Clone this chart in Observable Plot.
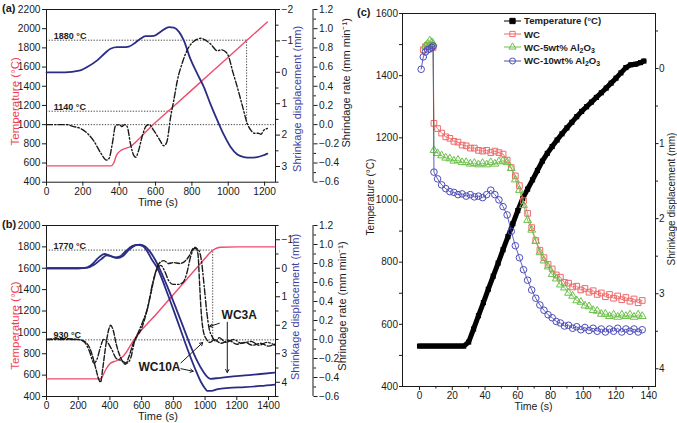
<!DOCTYPE html>
<html><head><meta charset="utf-8">
<script src="https://cdn.jsdelivr.net/npm/d3@7"></script>
<script src="https://cdn.jsdelivr.net/npm/@observablehq/plot@0.6"></script>
<style>
body{margin:0;background:#fff;}
#root{position:relative;width:677px;height:423px;overflow:hidden;background:#fff;font-family:"Liberation Sans",Arial,Helvetica,sans-serif;color:#1a1a1a;}
.plab{position:absolute;font-weight:bold;font-size:11px;}
#legend{position:absolute;left:504px;top:14px;font-weight:bold;font-size:9.6px;}
#legend .row{display:flex;align-items:center;height:13.4px;}
#legend svg{margin-right:3px;}
#legend sub{font-size:7px;vertical-align:-2px;line-height:0;}
</style></head><body><div id="root"></div>
<script>
// ---------------- Panel (a) data ----------------
const aTempTime = [0,355,370,385,407,430,462,481,500,572,700,900,1100,1215];
const aTemp     = [570,570,600,680,728,750,772,800,835,973,1191,1533,1874,2070];
const aDispTime = [0,100,180,224,279,320,352,389,420,453,490,517,545,591,630,673,701,730,756,790,830,866,900,940,975,1013,1050,1086,1120,1160,1190,1215];
const aDisp     = [0,0,-0.05,-0.17,-0.38,-0.6,-0.75,-0.8,-0.8,-0.82,-0.95,-1.07,-1.15,-1.16,-1.3,-1.44,-1.42,-1.28,-1.01,-0.45,0.05,0.47,0.98,1.53,1.98,2.38,2.62,2.7,2.72,2.7,2.65,2.59];
const aRateTime = [0,60,110,150,187,230,260,300,330,345,362,380,400,415,430,444,462,480,492,505,530,550,565,590,620,646,662,683,700,720,750,775,800,829,850,875,903,940,963,985,1000,1025,1050,1080,1105,1125,1145,1165,1180,1195,1215];
const aRate     = [0,0,0,-0.02,-0.04,-0.1,-0.17,-0.3,-0.37,-0.35,-0.2,-0.01,0,-0.02,0,-0.02,-0.2,-0.32,-0.34,-0.28,-0.1,-0.01,0,-0.06,-0.15,-0.22,-0.18,0.08,0.25,0.46,0.66,0.78,0.85,0.89,0.9,0.88,0.84,0.77,0.78,0.76,0.72,0.55,0.39,0.18,0.01,-0.06,-0.09,-0.09,-0.1,-0.06,-0.04];
const aRefTemps = [1880,1140];
const aRefEnds  = [1101,692];
const aRefLabels = ["1880 °C","1140 °C"];
const aZeroTemp = 1000;
const aTimeTicks = [0,200,400,600,800,1000,1200];
const aTempTicks = [400,600,800,1000,1200,1400,1600,1800,2000,2200];
const aDispTicks = [-2,-1,0,1,2,3];
const aDispMinor = [-1.5,-0.5,0.5,1.5,2.5,3.5];

// ---------------- Panel (b) data ----------------
const bTempTime = [0,340,355,375,404,446,488,551,700,850,1000,1034,1060,1097,1200,1440];
const bTemp     = [565,565,595,655,712,737,784,930,1183,1438,1693,1750,1778,1797,1800,1800];
const bDispATime = [0,200,250,290,330,365,395,430,465,500,540,575,605,635,665,700,750,800,845,890,935,975,1000,1013,1040,1080,1150,1250,1350,1440];
const bDispA     = [0,0,-0.02,-0.15,-0.38,-0.5,-0.45,-0.38,-0.42,-0.6,-0.78,-0.82,-0.78,-0.6,-0.3,0,0.7,1.45,2.15,2.85,3.5,4.0,4.22,4.3,4.3,4.24,4.2,4.17,4.13,4.08];
const bDispBTime = [0,200,260,300,345,380,410,445,480,520,560,590,620,650,685,720,770,820,865,910,950,985,1015,1034,1070,1150,1250,1350,1440];
const bDispB     = [0,0,-0.02,-0.12,-0.32,-0.45,-0.42,-0.36,-0.42,-0.65,-0.8,-0.83,-0.77,-0.6,-0.3,0.1,0.75,1.45,2.1,2.75,3.25,3.6,3.82,3.88,3.86,3.81,3.76,3.71,3.66];
const bRate1Time = [0,100,200,240,280,310,330,341,355,375,395,405,420,440,470,498,520,545,570,600,630,660,690,710,740,770,800,840,870,900,925,940,955,965,975,990,1010,1030,1060,1100,1150,1200,1250,1300,1350,1400,1440];
const bRate1     = [0,0.01,0,-0.02,-0.12,-0.3,-0.42,-0.45,-0.3,-0.05,0.12,0.15,0.1,-0.05,-0.2,-0.26,-0.18,-0.05,0.03,0.12,0.28,0.5,0.72,0.8,0.83,0.8,0.81,0.8,0.82,0.88,0.96,0.97,0.9,0.6,0.3,0.08,0,-0.03,0,-0.04,-0.01,-0.05,-0.03,-0.06,-0.04,-0.07,-0.05];
const bRate2Time = [0,100,200,240,270,300,320,340,360,380,410,440,470,505,530,555,580,610,640,670,700,720,745,770,800,830,860,885,910,935,955,975,995,1010,1025,1045,1065,1090,1130,1180,1230,1290,1340,1390,1440];
const bRate2     = [0,0,0,-0.03,-0.12,-0.25,-0.2,-0.08,0,-0.02,-0.1,-0.2,-0.22,-0.25,-0.2,-0.02,0.08,0.2,0.35,0.6,0.75,0.78,0.72,0.62,0.58,0.58,0.6,0.7,0.88,0.96,0.95,0.85,0.55,0.3,0.12,0.03,-0.02,0.02,-0.03,0,-0.04,-0.02,-0.06,-0.03,-0.06];
const bRefTemps = [1770];
const bRefEnds  = [1048];
const bRefLabels = ["1770 °C"];
const bZeroTemp = 930;
const bZeroLabel = "930 °C";
const bTimeTicks = [0,200,400,600,800,1000,1200,1400];
const bTempTicks = [400,600,800,1000,1200,1400,1600,1800,2000];
const bDispTicks = [-1,0,1,2,3,4];
const bDispMinor = [-1.5,-0.5,0.5,1.5,2.5,3.5,4.5];
const bNoteLabels = ["WC3A","WC10A"];
const bNoteTime   = [1104,580];
const bNoteTemp   = [1158,674];
const bArrowT1 = [1090,1140,848,848];
const bArrowY1 = [1085,1095,715,660];
const bArrowT2 = [1028,1140,985,925];
const bArrowY2 = [1055,625,905,636];

const rateTicks = [-0.6,-0.4,-0.2,0,0.2,0.4,0.6,0.8,1.0,1.2];
const rateMinor = [-0.5,-0.3,-0.1,0.1,0.3,0.5,0.7,0.9,1.1];

// ---------------- Panel (c) data ----------------
const cTempTime = [0,3,6,9,12,15,18,21,24,27,30,33,36,39,42,45,48,51,54,57,60,63,66,69,72,75,78,81,84,87,90,93,96,99,102,105,108,111,114,117,120,123,126,129,132,135,137];
const cTemp     = [530,530,530,530,530,530,530,530,530,530,543,585,628,670,713,755,797,840,882,924,966,1005,1035,1065,1095,1125,1150,1172,1193,1213,1232,1250,1268,1285,1300,1315,1330,1345,1360,1376,1392,1409,1426,1435,1437,1442,1447];
const cTime = [1,2.3,3.6,4.9,6.2,7.5,8.3,8.8,11,13.5,16,18.5,21,23.5,26,28.5,31,33.5,36,38.5,41,43.5,46,48.5,51,53.5,56,58.5,61,63.5,66,68.5,71,73.5,76,78.5,81,83.5,86,88.5,91,93.5,96,98.5,101,103.5,106,108.5,111,113.5,116,118.5,121,123.5,126,128.5,131,133.5,136];
const cWC   = [null,-0.25,-0.29,-0.31,-0.31,-0.30,-0.28,0.73,
  0.80,0.86,0.91,0.93,0.97,0.98,1.02,1.03,1.06,1.06,1.09,1.10,1.09,1.12,1.10,1.12,1.14,1.22,1.32,1.43,1.56,1.76,1.93,2.12,2.29,2.42,2.52,2.61,2.67,2.75,2.78,2.85,2.86,2.91,2.90,2.95,2.93,2.98,2.96,3.01,2.99,3.04,3.01,3.06,3.03,3.08,3.05,3.10,3.07,3.12,3.09];
const cWC5  = [null,null,-0.30,-0.33,-0.37,-0.35,-0.33,1.09,
  1.13,1.16,1.19,1.20,1.23,1.22,1.25,1.25,1.27,1.26,1.28,1.26,1.28,1.25,1.27,1.24,1.23,1.25,1.33,1.48,1.62,1.82,2.02,2.15,2.30,2.45,2.56,2.64,2.74,2.80,2.88,2.92,2.99,3.03,3.09,3.11,3.16,3.17,3.22,3.23,3.27,3.27,3.30,3.28,3.31,3.28,3.30,3.28,3.31,3.28,3.30];
const cWC10 = [0.01,-0.155,-0.22,-0.25,-0.26,-0.28,-0.30,1.38,
  1.47,1.55,1.60,1.64,1.65,1.68,1.67,1.70,1.68,1.71,1.70,1.72,1.68,1.62,1.68,1.75,1.84,1.95,2.17,2.36,2.52,2.68,2.82,2.95,3.06,3.15,3.22,3.28,3.32,3.37,3.39,3.43,3.42,3.46,3.44,3.48,3.45,3.49,3.46,3.50,3.47,3.51,3.47,3.50,3.46,3.51,3.47,3.50,3.47,3.51,3.48];
const cSeriesNames = ["Temperature (°C)","WC","WC-5wt% Al<sub>2</sub>O<sub>3</sub>","WC-10wt% Al<sub>2</sub>O<sub>3</sub>"];
const cTimeTicks = [0,20,40,60,80,100,120,140];
const cTimeMinor = [10,30,50,70,90,110,130];
const cTempTicks = [400,600,800,1000,1200,1400,1600];
const cTempMinor = [500,700,900,1100,1300,1500];
const cDispTicks = [0,1,2,3,4];
const cDispMinor = [-0.5,0.5,1.5,2.5,3.5];

// ---------------- styling ----------------
const root = document.getElementById("root");
const FONT = '"Liberation Sans", Arial, Helvetica, sans-serif';
const BLK = "#1a1a1a", RED = "#ef4b6d", NAVY = "#2b2d84", REDTXT = "#ee3f57", BLUETXT = "#3e3ea2";
const C_RED = "#f0696b", C_GREEN = "#6cc14a", C_BLUE = "#4d4db9";
const baseStyle = {background:"transparent", overflow:"visible", fontFamily:FONT, fontSize:"10.2px", color:BLK};
const cStyle = {...baseStyle, fontSize:"10px"};
const fmtInt = d3.format("d"), fmt1 = d3.format(".1f");
const pts = (xs, ys) => xs.map((x,i) => ({x, y: ys[i]}));
function place(svg, left, top){ svg.style.position="absolute"; svg.style.left=left+"px"; svg.style.top=top+"px"; root.appendChild(svg); }
function vlabel(t, anchor, dx, dy, fill, size){
  return Plot.text([t], {text:d=>d, frameAnchor:anchor, textAnchor:"middle", lineAnchor:"middle", rotate:-90, dx, dy, fill, fontSize:size});
}
function hlabel(t, dx, dy, size){
  return Plot.text([t], {text:d=>d, frameAnchor:"bottom", textAnchor:"middle", lineAnchor:"middle", dx, dy, fill:BLK, fontSize:size});
}
const DOT = {stroke:"#333", strokeWidth:0.9, strokeDasharray:"1.3,1.5"};

function dualPanel(P){
  const common = {width:360, height:P.height, marginLeft:46, marginRight:85, marginTop:P.mt, marginBottom:P.mb, style:baseStyle};
  const xs = {domain:P.xDomain, label:null};
  const refs = P.refTemps.map((v,i)=>({temp:v, t:P.refEnds[i], label:P.refLabels[i]}));
  const baseMarks = [
    Plot.frame({stroke:BLK, strokeWidth:1}),
    Plot.axisX({ticks:P.timeTicks, tickSize:4, tickPadding:1.5, tickFormat:fmtInt, label:null}),
    Plot.axisY({ticks:P.tempTicks, tickSize:4, tickPadding:2, tickFormat:fmtInt, label:null}),
    Plot.ruleY(refs, {y:"temp", x1:P.xDomain[0], x2:"t", ...DOT}),
    Plot.ruleY([P.zeroTemp], {y:d=>d, ...DOT}),
    Plot.ruleX(refs.slice(0,1), {x:"t", y1:P.zeroTemp, y2:"temp", ...DOT}),
    Plot.text(refs, {x:P.refLabelTime, y:"temp", text:"label", textAnchor:"start", lineAnchor:"bottom", dy:-1.5, fontWeight:"bold", fontSize:9, fill:BLK}),
    Plot.line(pts(P.tempTime,P.temp), {x:"x", y:"y", stroke:RED, strokeWidth:1.4, curve:"monotone-x"}),
    vlabel("Temperature (°C)", "left", -31, P.tempLabelDy, REDTXT, 11.5),
    hlabel("Time (s)", -3, 20, 11)
  ];
  if (P.zeroLabel) baseMarks.push(Plot.text([P.zeroLabel], {x:P.refLabelTime, y:P.zeroTemp, text:d=>d, textAnchor:"start", lineAnchor:"bottom", dy:-1.5, fontWeight:"bold", fontSize:9, fill:BLK}));
  place(Plot.plot({...common, x:xs, y:{domain:P.tempDomain, label:null}, marks:baseMarks}), 0, P.top);

  place(Plot.plot({...common, x:{...xs, axis:null}, y:{domain:P.dispDomain, reverse:true, label:null}, marks:[
    Plot.axisY({anchor:"right", ticks:P.dispMinor, tickSize:2.5, fill:"none", label:null}),
    Plot.axisY({anchor:"right", ticks:P.dispTicks, tickSize:4, tickPadding:2, tickFormat:fmtInt, label:null}),
    ...P.disps.map(s => Plot.line(pts(s[0], s[1]), {x:"x", y:"y", stroke:NAVY, strokeWidth:1.8, curve:"monotone-x"})),
    vlabel("Shrinkage displacement (mm)", "right", P.dispLabelDx, P.dispLabelDy, BLUETXT, 11)
  ]}), 0, P.top);

  const rateMarks = [
    Plot.ruleX([P.xDomain[1]], {x:d=>d, dx:37.5, stroke:BLK, strokeWidth:1}),
    Plot.axisY({anchor:"right", dx:37.5, ticks:rateMinor, tickSize:2.5, fill:"none", label:null}),
    Plot.axisY({anchor:"right", dx:37.5, ticks:rateTicks, tickSize:4, tickPadding:2, tickFormat:fmt1, label:null}),
    ...P.rates.map(s => Plot.line(pts(s[0], s[1]), {x:"x", y:"y", stroke:BLK, strokeWidth:1.4, strokeDasharray:s[2], curve:"monotone-x"})),
    vlabel("Shrindage rate (mm min⁻¹)", "right", P.rateLabelDx, P.rateLabelDy, BLK, 11)
  ];
  if (P.notes) {
    rateMarks.push(Plot.text(P.notes, {x:"t", y:"v", text:"label", textAnchor:"start", lineAnchor:"middle", fontWeight:"bold", fontSize:12, fill:BLK}));
    rateMarks.push(Plot.arrow(P.arrows, {x1:"t1", y1:"v1", x2:"t2", y2:"v2", stroke:BLK, strokeWidth:1, headLength:5}));
  }
  place(Plot.plot({...common, x:{...xs, axis:null}, y:{domain:[-0.6,1.2], label:null}, marks:rateMarks}), 0, P.top);
}

// annotation positions are given in temperature units; map them onto the rate layer (same frame)
function toRate(T, dom){ return -0.6 + (T - dom[0]) / (dom[1]-dom[0]) * 1.8; }

dualPanel({
  top:0, height:205, mt:9, mb:23.3,
  xDomain:[0,1260], tempDomain:[400,2200], dispDomain:[-2,3.5],
  timeTicks:aTimeTicks, tempTicks:aTempTicks, dispTicks:aDispTicks, dispMinor:aDispMinor,
  refTemps:aRefTemps, refEnds:aRefEnds, refLabels:aRefLabels, zeroTemp:aZeroTemp, refLabelTime:40,
  tempTime:aTempTime, temp:aTemp,
  disps:[[aDispTime,aDisp]],
  rates:[[aRateTime,aRate,"6,2.2,1.4,2.2"]],
  tempLabelDy:5.5, dispLabelDx:21.5, dispLabelDy:3, rateLabelDx:71, rateLabelDy:-13
});

dualPanel({
  top:205, height:218, mt:20, mb:27,
  xDomain:[0,1444], tempDomain:[400,2000], dispDomain:[-1.5,4.5],
  timeTicks:bTimeTicks, tempTicks:bTempTicks, dispTicks:bDispTicks, dispMinor:bDispMinor,
  refTemps:bRefTemps, refEnds:bRefEnds, refLabels:bRefLabels, zeroTemp:bZeroTemp, zeroLabel:bZeroLabel, refLabelTime:44,
  tempTime:bTempTime, temp:bTemp,
  disps:[[bDispATime,bDispA],[bDispBTime,bDispB]],
  rates:[[bRate1Time,bRate1,"5,2"],[bRate2Time,bRate2,"6,2.2,1.4,2.2"]],
  notes: bNoteLabels.map((l,i)=>({label:l, t:bNoteTime[i], v:toRate(bNoteTemp[i],[400,2000])})),
  arrows: bArrowT1.map((t,i)=>({t1:t, v1:toRate(bArrowY1[i],[400,2000]), t2:bArrowT2[i], v2:toRate(bArrowY2[i],[400,2000])})),
  tempLabelDy:14.5, dispLabelDx:20, dispLabelDy:-4, rateLabelDx:67, rateLabelDy:-5
});

// ---------------- Panel (c) ----------------
const Cc = {width:337, height:423, marginLeft:62, marginRight:22, marginTop:13, marginBottom:37, style:cStyle};
const cx = {domain:[-10.4,144.1], label:null};
place(Plot.plot({...Cc, x:cx, y:{domain:[400,1600], label:null}, marks:[
  Plot.frame({stroke:BLK, strokeWidth:1}),
  Plot.axisX({ticks:cTimeMinor, tickSize:2.5, fill:"none", label:null}),
  Plot.axisX({ticks:cTimeTicks, tickSize:4, tickPadding:1.5, tickFormat:fmtInt, label:null}),
  Plot.axisY({ticks:cTempMinor, tickSize:3, fill:"none", label:null}),
  Plot.axisY({ticks:cTempTicks, tickSize:3, tickPadding:1.5, tickFormat:fmtInt, label:null}),
  Plot.line(pts(cTempTime,cTemp), {x:"x", y:"y", stroke:"#000", strokeWidth:5}),
  Plot.dot(pts(cTempTime,cTemp), {x:"x", y:"y", symbol:"square", r:2.9, fill:"#000", stroke:"none"}),
  vlabel("Temperature (°C)", "left", -32, -3, BLK, 10),
  hlabel("Time (s)", 4.5, 20, 10.5)
]}), 340, 0);

place(Plot.plot({...Cc, x:{...cx, axis:null}, y:{domain:[-0.733,4.236], reverse:true, label:null}, marks:[
  Plot.axisY({anchor:"right", ticks:cDispMinor, tickSize:2, fill:"none", label:null}),
  Plot.axisY({anchor:"right", ticks:cDispTicks, tickSize:2.5, tickPadding:1, tickFormat:fmtInt, label:null}),
  Plot.line(pts(cTime,cWC), {x:"x", y:"y", stroke:C_RED, strokeWidth:0.9}),
  Plot.dot(pts(cTime,cWC), {x:"x", y:"y", symbol:"square", r:3.2, stroke:C_RED, fill:"none", strokeWidth:1}),
  Plot.line(pts(cTime,cWC5), {x:"x", y:"y", stroke:C_GREEN, strokeWidth:0.9}),
  Plot.dot(pts(cTime,cWC5), {x:"x", y:"y", symbol:"triangle", r:2.9, stroke:C_GREEN, fill:"none", strokeWidth:1}),
  Plot.line(pts(cTime,cWC10), {x:"x", y:"y", stroke:C_BLUE, strokeWidth:0.9}),
  Plot.dot(pts(cTime,cWC10), {x:"x", y:"y", symbol:"circle", r:3.3, stroke:C_BLUE, fill:"none", strokeWidth:1}),
  vlabel("Shrinkage displacement (mm)", "right", 16, -1, BLK, 10)
]}), 340, 0);

// legend for panel c
const legendColors = ["#000", C_RED, C_GREEN, C_BLUE];
const legendSymbols = [d3.symbolSquare, d3.symbolSquare, d3.symbolTriangle, d3.symbolCircle];
const legendFill = ["#000","none","none","none"];
const lg = document.createElement("div"); lg.id = "legend";
cSeriesNames.forEach((name,i)=>{
  const row = document.createElement("div"); row.className="row";
  const sym = d3.symbol(legendSymbols[i], i===2?22:28)();
  row.innerHTML = `<svg width="17" height="10" viewBox="0 0 17 10"><line x1="0" y1="5" x2="17" y2="5" stroke="${legendColors[i]}" stroke-width="1"/><path d="${sym}" transform="translate(8.5,5)" fill="${legendFill[i]}" stroke="${legendColors[i]}" stroke-width="1"/></svg><span>${name}</span>`;
  lg.appendChild(row);
});
root.appendChild(lg);

// panel letters
[["(a)",2,2],["(b)",2,218],["(c)",357,6]].forEach(([t,l,tp])=>{
  const d=document.createElement("div"); d.className="plab"; d.textContent=t; d.style.left=l+"px"; d.style.top=tp+"px"; root.appendChild(d);
});
</script></body></html>
